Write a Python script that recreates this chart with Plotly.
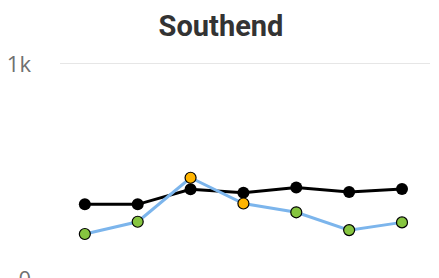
import plotly.graph_objects as go

categories = ["P1", "P2", "P3", "P4", "P5", "P6", "P7"]
black_values = [343, 343, 413, 397, 422, 401, 414]
blue_values = [205, 262, 467, 347, 306, 223, 259]
blue_marker_colors = ["#86c540", "#86c540", "#ffb400", "#ffb400", "#86c540", "#86c540", "#86c540"]
y_tick_vals = [0, 1000]
y_tick_text = ["0", "1k"]

fig = go.Figure()
fig.add_trace(go.Scatter(
    x=categories, y=black_values, mode="lines+markers",
    line=dict(color="#000000", width=3),
    marker=dict(color="#000000", size=12, line=dict(width=0)),
    showlegend=False, cliponaxis=False,
))
fig.add_trace(go.Scatter(
    x=categories, y=blue_values, mode="lines+markers",
    line=dict(color="#7cb5ec", width=3),
    marker=dict(color=blue_marker_colors, size=11, line=dict(color="#000000", width=1.2)),
    showlegend=False, cliponaxis=False,
))

fig.update_layout(
    width=439, height=278,
    margin=dict(l=60, r=9, t=59, b=0, autoexpand=False),
    paper_bgcolor="white", plot_bgcolor="white",
    title=dict(text="<b>Southend</b>", x=221 / 439, xanchor="center", xref="container",
               y=1 - 26 / 278, yref="container", yanchor="middle",
               font=dict(family="Roboto, Arial, sans-serif", size=29, color="#333333")),
    xaxis=dict(range=[-0.47, 6.53], showgrid=False, showticklabels=False,
               showline=False, zeroline=False, ticks="", automargin=False),
    yaxis=dict(range=[0, 1020], tickvals=y_tick_vals, ticktext=y_tick_text,
               showgrid=True, gridcolor="#e6e6e6", gridwidth=1,
               zeroline=False, showline=False, ticks="", automargin=False,
               ticklabelstandoff=28, ticklabelshift=1, ticklabeloverflow="allow",
               tickfont=dict(family="Open Sans, sans-serif", size=22, color="#707070")),
)

fig.write_html("out.html", post_script="document.body.style.margin='0';",
               config={"displayModeBar": False})
